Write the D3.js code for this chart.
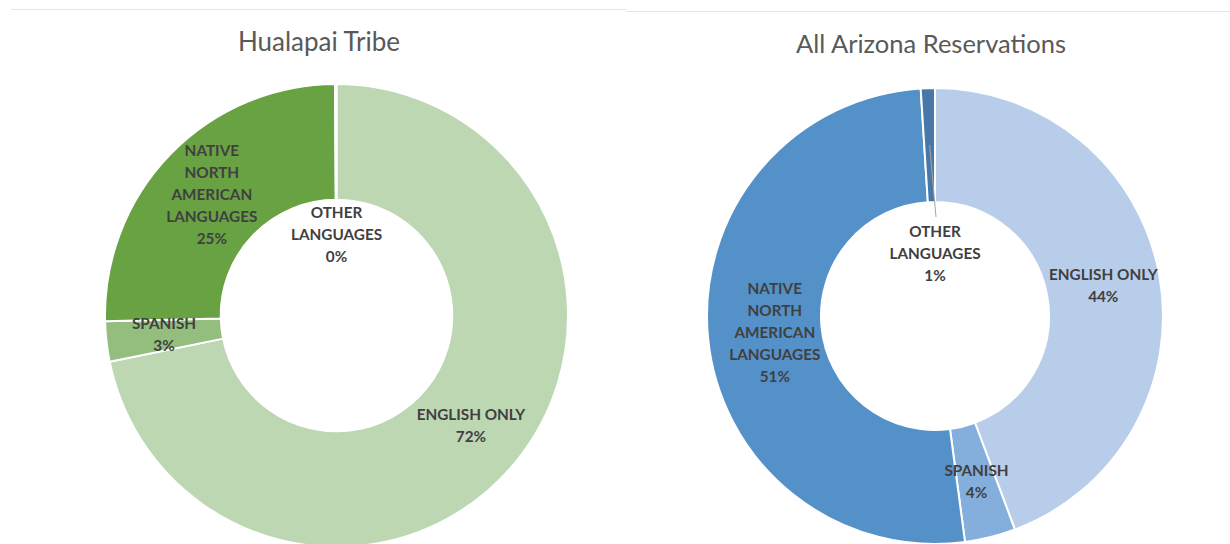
<!DOCTYPE html>
<html>
<head>
<meta charset="utf-8">
<script src="https://cdn.jsdelivr.net/npm/d3@7.9.0/dist/d3.min.js"></script>
<style>
  body { margin: 0; background: #fff; }
  svg { display: block; }
</style>
</head>
<body>
<svg id="chart" width="1230" height="544"></svg>
<script>
// categories in drawing order (clockwise from 12 o'clock)
const categories = ["ENGLISH ONLY", "SPANISH", "NATIVE NORTH AMERICAN LANGUAGES", "OTHER LANGUAGES"];
// label lines as they wrap in the original
const labelLines = [["ENGLISH ONLY"], ["SPANISH"], ["NATIVE", "NORTH", "AMERICAN", "LANGUAGES"], ["OTHER", "LANGUAGES"]];

const hualapaiValues = [71.8, 2.8, 25.3, 0.1];
const hualapaiLabels = ["72%", "3%", "25%", "0%"];
const arizonaValues = [44.3, 3.6, 51.1, 1.0];
const arizonaLabels = ["44%", "4%", "51%", "1%"];

const titles = ["Hualapai Tribe", "All Arizona Reservations"];

const greens = ["#bdd7b3", "#93be7d", "#68a243", "#4f8a2e"];
const blues = ["#b8cde9", "#84aedc", "#5491c9", "#4778a8"];

const svg = d3.select("#chart");

// faint rules along the top edge
svg.append("line").attr("x1", 11).attr("x2", 626).attr("y1", 9.5).attr("y2", 9.5)
    .attr("stroke", "#e6e6e6").attr("stroke-width", 1);
svg.append("line").attr("x1", 626).attr("x2", 1230).attr("y1", 11.5).attr("y2", 11.5)
    .attr("stroke", "#e6e6e6").attr("stroke-width", 1);

function drawDonut(opts) {
    const { cx, cy, r, values, pctLabels, colors, title, titleX, titleY, titleSize, small } = opts;
    const g = svg.append("g").attr("transform", `translate(${cx},${cy})`);

    const pie = d3.pie().sort(null).value(d => d);
    const arcs = pie(values);
    const arc = d3.arc().innerRadius(r * 0.5).outerRadius(r);
    const midArc = d3.arc().innerRadius(r * 0.75).outerRadius(r * 0.75);

    g.selectAll("path.slice")
        .data(arcs)
        .enter().append("path")
        .attr("class", "slice")
        .attr("d", arc)
        .attr("fill", (d, i) => colors[i])
        .attr("stroke", "#fff")
        .attr("stroke-width", 2)
        .attr("stroke-linejoin", "round");

    // labels
    arcs.forEach((d, i) => {
        let [x, y] = midArc.centroid(d);
        const lines = labelLines[i].concat([pctLabels[i]]);
        if (i === 3) {
            // tiny slice: label sits in the hole
            x = small.x;
            y = small.y;
        }
        const lh = 22;
        const top = y - (lines.length - 1) * lh / 2;
        const t = g.append("text")
            .attr("text-anchor", "middle")
            .attr("font-family", "Lato, 'Open Sans', sans-serif")
            .attr("font-weight", "bold")
            .attr("font-size", "15.3px")
            .attr("fill", "#404040");
        lines.forEach((s, k) => {
            t.append("tspan")
                .attr("x", x + (opts.dx && opts.dx[i] || 0))
                .attr("y", top + k * lh)
                .attr("dy", "0.35em")
                .text(s);
        });
        if (i === 3 && small.leader) {
            const c = midArc.centroid(d);
            g.append("line")
                .attr("x1", x + 1).attr("y1", top - 15)
                .attr("x2", c[0]).attr("y2", c[1])
                .attr("stroke", "#a6a6a6")
                .attr("stroke-width", 1);
        }
    });

    svg.append("text")
        .attr("x", titleX)
        .attr("y", titleY)
        .attr("text-anchor", "middle")
        .attr("font-family", "Lato, 'Open Sans', sans-serif")
        .attr("font-size", titleSize)
        .attr("fill", "#595959")
        .text(title);
}

drawDonut({
    cx: 336.5, cy: 315.5, r: 231.5,
    values: hualapaiValues, pctLabels: hualapaiLabels, colors: greens,
    title: titles[0], titleX: 319, titleY: 51, titleSize: "26px",
    small: { x: 0, y: -81, leader: false }
});

drawDonut({
    cx: 935, cy: 316, r: 228,
    values: arizonaValues, pctLabels: arizonaLabels, colors: blues,
    title: titles[1], titleX: 931, titleY: 53, titleSize: "25.5px",
    small: { x: 0, y: -62, leader: true },
    dx: [0, 0, 10, 0]
});
</script>
</body>
</html>
